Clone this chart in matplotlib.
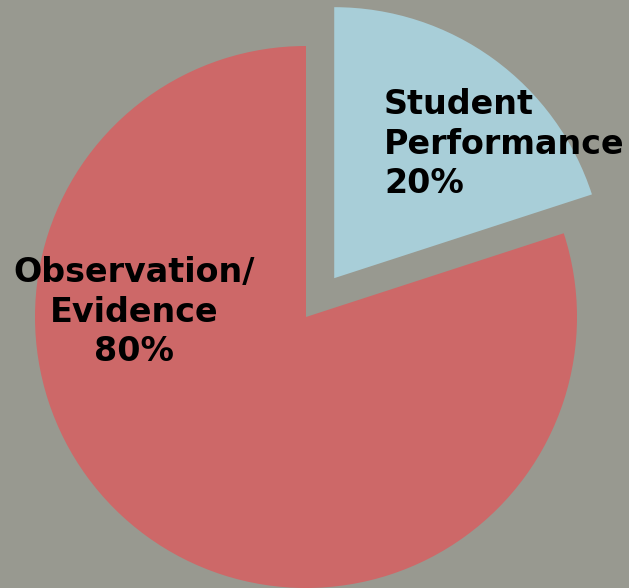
import matplotlib.pyplot as plt

# slice data
labels = ['Student\nPerformance\n20%', 'Observation/\nEvidence\n80%']
shares = [20, 80]
colors = ['#a8ced8', '#cd6868']

W, H = 629, 588
R = 271
# pie() offsets exploded wedges in data units, not as a fraction of radius
explode = [48, 0]

fig = plt.figure(figsize=(W / 100, H / 100), dpi=100)
fig.patch.set_facecolor('#989990')
ax = fig.add_axes([0, 0, 1, 1])
ax.set_facecolor('#989990')

ax.pie(shares, colors=colors, explode=explode, startangle=90, counterclock=False,
       center=(306, H - 317), radius=R, frame=True,
       wedgeprops={'linewidth': 0})

ax.set_xlim(0, W)
ax.set_ylim(0, H)
ax.set_aspect('equal')
ax.axis('off')

# labels
ax.text(384, H - 88, labels[0], ha='left', va='top', fontsize=24,
        fontweight='bold', linespacing=1.25, color='black')
ax.text(134, H - 256, labels[1], ha='center', va='top', fontsize=24,
        fontweight='bold', linespacing=1.25, color='black')

fig.savefig('out.png', dpi=100, facecolor=fig.get_facecolor())
